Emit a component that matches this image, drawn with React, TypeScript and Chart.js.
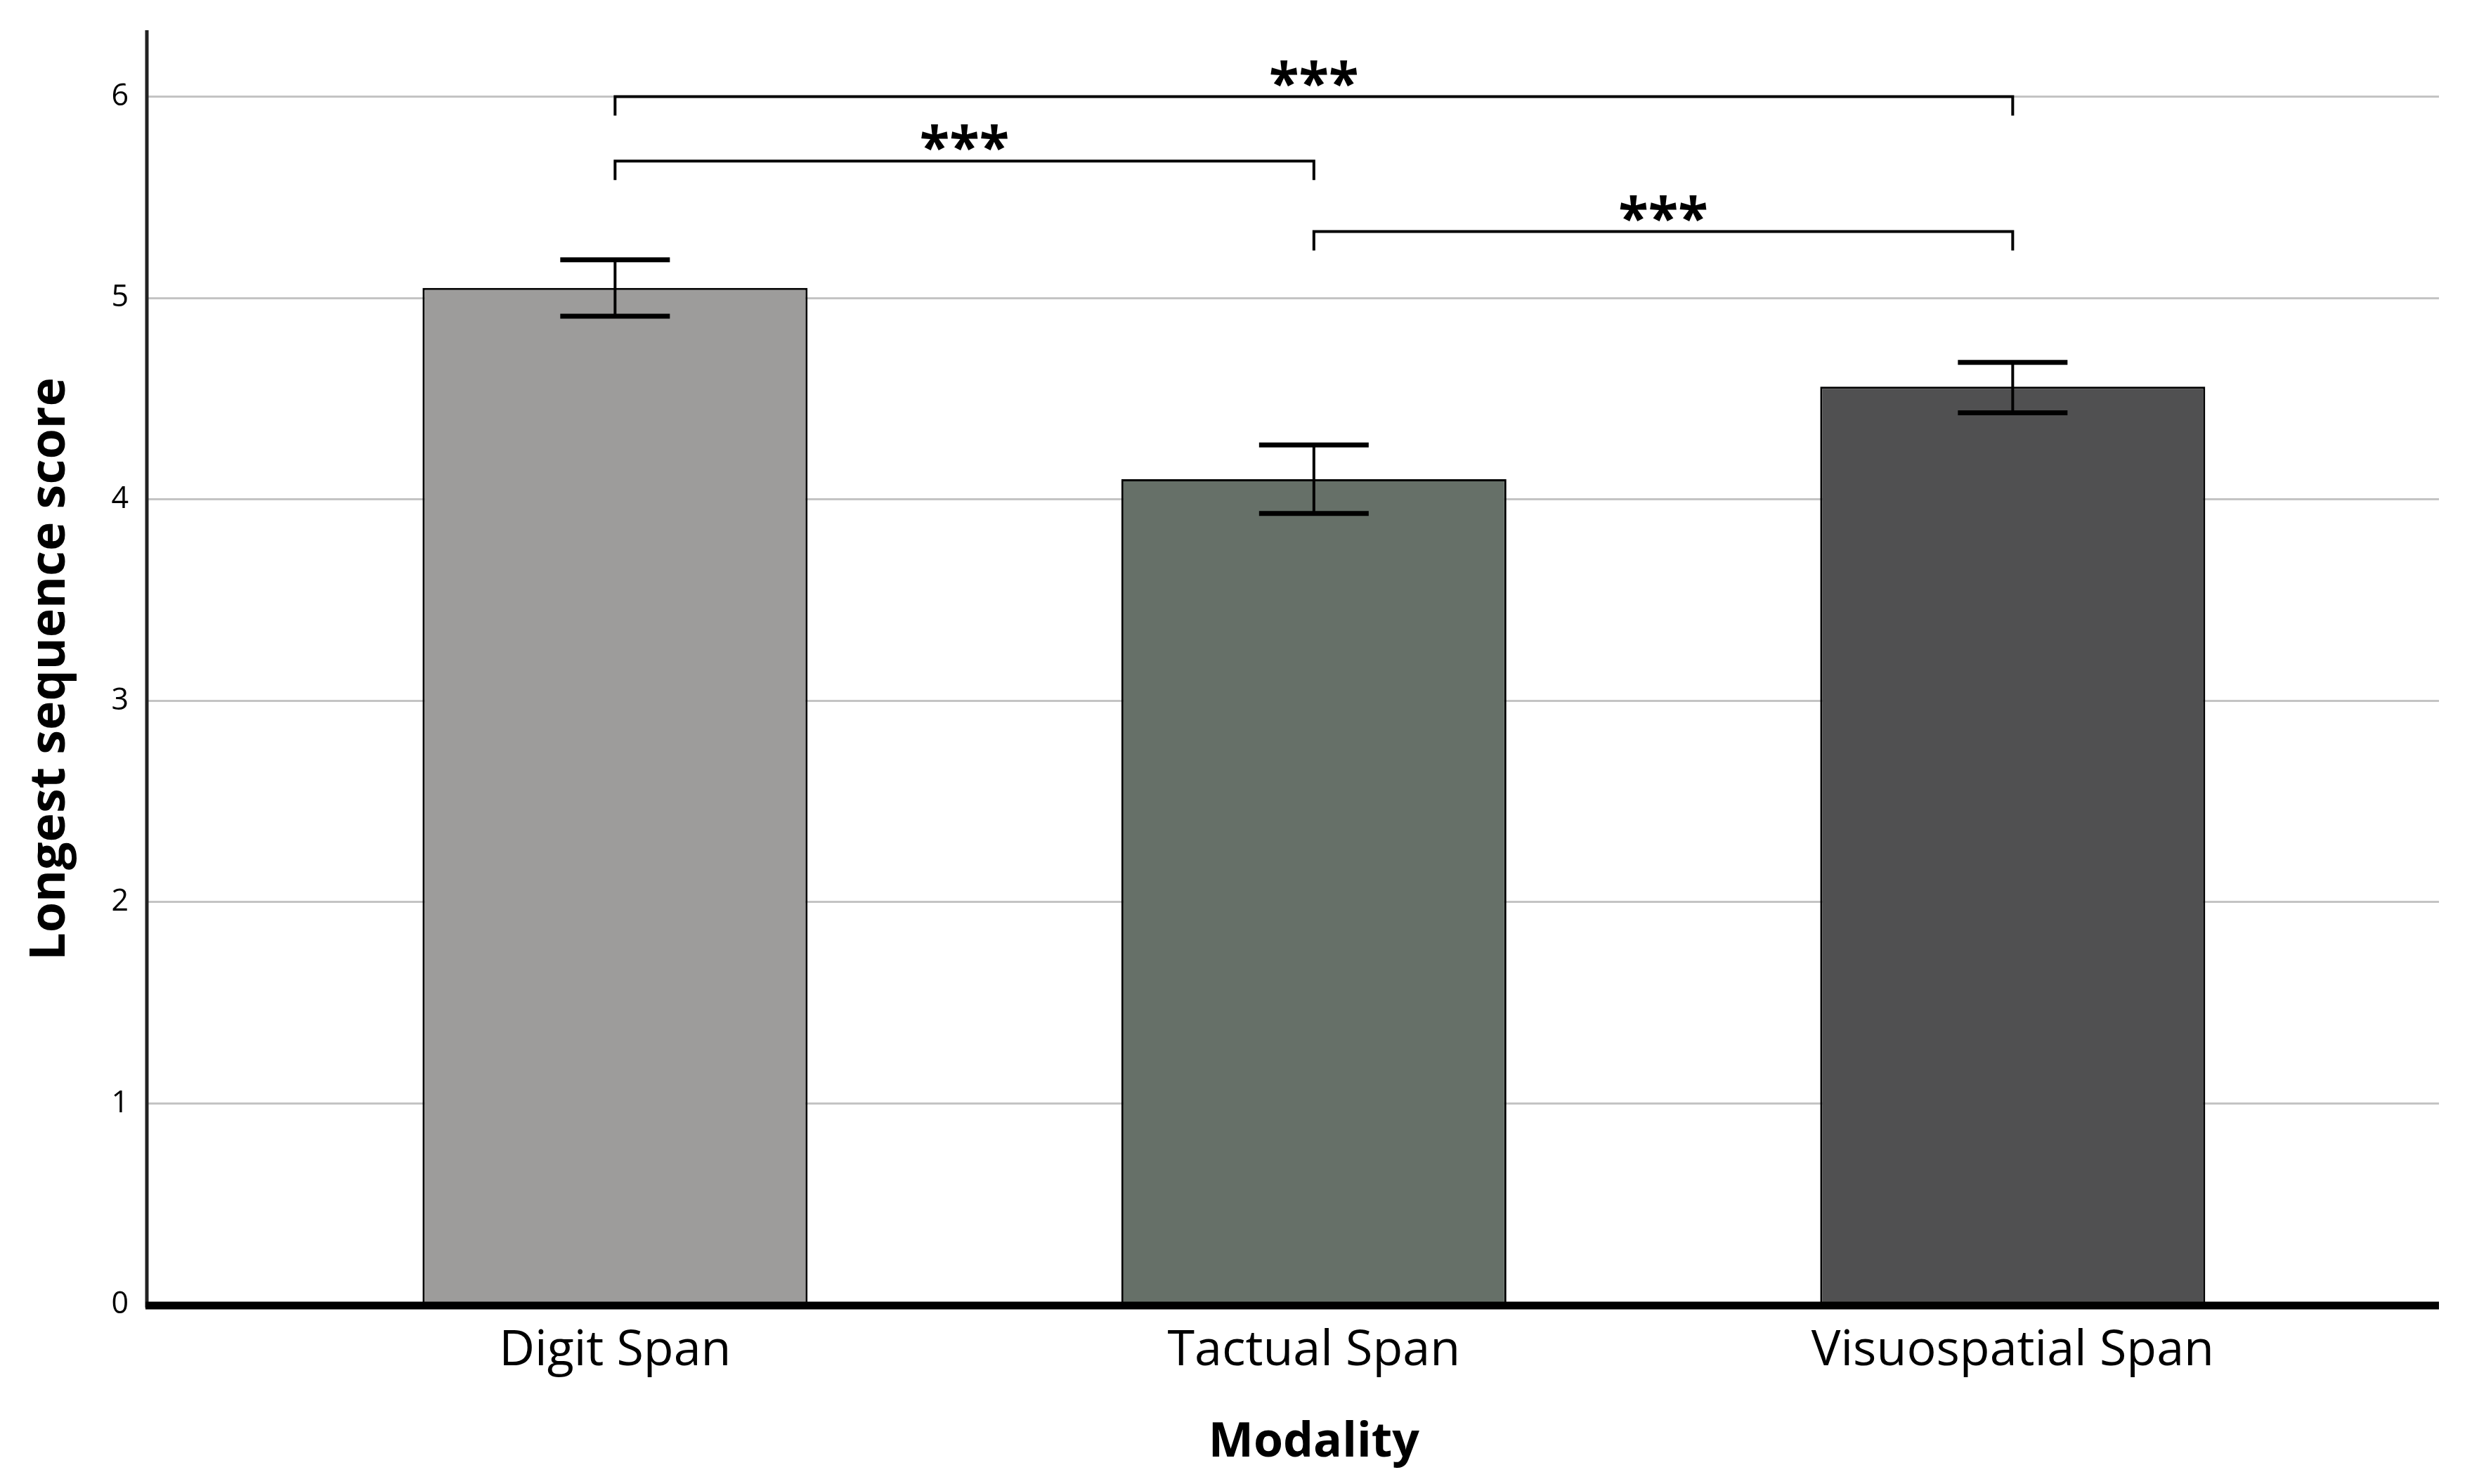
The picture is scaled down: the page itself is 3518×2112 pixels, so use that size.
import React, { useEffect, useRef } from 'react';
import { Chart, registerables } from 'chart.js';

Chart.register(...registerables);

// ---- Data ----
const categories = ['Digit Span', 'Tactual Span', 'Visuospatial Span'];
const means = [5.05, 4.10, 4.56];
const ciLow = [4.91, 3.93, 4.43];
const ciHigh = [5.19, 4.27, 4.68];
const barColors = ['#9d9c9b', '#667068', '#505051'];
const yTickValues = [0, 1, 2, 3, 4, 5, 6];
const bracketFrom = [0, 0, 1];
const bracketTo = [2, 1, 2];
const bracketLevel = [6.0, 5.68, 5.33];
const bracketLabels = ['***', '***', '***'];
const xTitle = 'Modality';
const yTitle = 'Longest sequence score';

const FONT = '"Open Sans", "Noto Sans", sans-serif';

const overlayPlugin = {
  id: 'overlay',
  afterDatasetsDraw(chart: any) {
    const { ctx, chartArea, scales } = chart;
    const x = scales.x;
    const y = scales.y;
    ctx.save();
    ctx.strokeStyle = '#000';
    ctx.fillStyle = '#000';
    ctx.lineCap = 'butt';

    // error bars
    means.forEach((_, i) => {
      const px = x.getPixelForValue(i);
      const yl = y.getPixelForValue(ciLow[i]);
      const yh = y.getPixelForValue(ciHigh[i]);
      ctx.lineWidth = 4;
      ctx.beginPath();
      ctx.moveTo(px, yl);
      ctx.lineTo(px, yh);
      ctx.stroke();
      ctx.lineWidth = 7;
      [yl, yh].forEach((yy) => {
        ctx.beginPath();
        ctx.moveTo(px - 78, yy);
        ctx.lineTo(px + 78, yy);
        ctx.stroke();
      });
    });

    // significance brackets
    bracketFrom.forEach((f, k) => {
      const x1 = x.getPixelForValue(f);
      const x2 = x.getPixelForValue(bracketTo[k]);
      const yy = y.getPixelForValue(bracketLevel[k]);
      ctx.lineWidth = 4;
      ctx.beginPath();
      ctx.moveTo(x1, yy + 27);
      ctx.lineTo(x1, yy);
      ctx.lineTo(x2, yy);
      ctx.lineTo(x2, yy + 27);
      ctx.stroke();
      ctx.font = `bold 78px ${FONT}`;
      ctx.textAlign = 'center';
      ctx.textBaseline = 'alphabetic';
      ctx.fillText(bracketLabels[k], (x1 + x2) / 2, yy + 8);
    });

    // axis lines
    ctx.strokeStyle = '#222';
    ctx.lineWidth = 5;
    ctx.beginPath();
    ctx.moveTo(chartArea.left, chartArea.top);
    ctx.lineTo(chartArea.left, chartArea.bottom + 4);
    ctx.stroke();
    ctx.strokeStyle = '#000';
    ctx.lineWidth = 11;
    ctx.beginPath();
    ctx.moveTo(chartArea.left - 2, chartArea.bottom + 1);
    ctx.lineTo(chartArea.right, chartArea.bottom + 1);
    ctx.stroke();

    // axis titles
    ctx.fillStyle = '#000';
    ctx.font = `bold 68px ${FONT}`;
    ctx.textAlign = 'center';
    ctx.textBaseline = 'alphabetic';
    ctx.fillText(xTitle, x.getPixelForValue(1), chartArea.bottom + 216);
    ctx.save();
    ctx.font = `bold 70px ${FONT}`;
    ctx.translate(chartArea.left - 117, (chartArea.top + chartArea.bottom) / 2 + 2);
    ctx.rotate(-Math.PI / 2);
    ctx.fillText(yTitle, 0, 0);
    ctx.restore();

    ctx.restore();
  },
};

export default function App() {
  const canvasRef = useRef<HTMLCanvasElement | null>(null);

  useEffect(() => {
    if (!canvasRef.current) return;
    const chart = new Chart(canvasRef.current, {
      type: 'bar',
      data: {
        datasets: [
          {
            data: means.map((m, i) => ({ x: i, y: m })),
            backgroundColor: barColors,
            borderColor: '#000',
            borderWidth: 3,
            barPercentage: 0.551,
            categoryPercentage: 1,
          },
        ],
      },
      options: {
        responsive: false,
        animation: false,
        devicePixelRatio: 1,
        layout: { padding: { left: 0, right: 47, top: 43, bottom: 0 } },
        plugins: {
          legend: { display: false },
          tooltip: { enabled: false },
        },
        scales: {
          x: {
            type: 'linear',
            min: -0.67,
            max: 2.61,
            offset: false,
            afterBuildTicks: (s: any) => {
              s.ticks = categories.map((_, i) => ({ value: i }));
            },
            afterFit: (s: any) => {
              s.height = 2112 - 1857;
              s.paddingLeft = 0;
              s.paddingRight = 0;
            },
            ticks: {
              autoSkip: false,
              maxRotation: 0,
              minRotation: 0,
              padding: 24,
              color: '#000',
              font: { family: FONT, size: 70 },
              callback: (v: any) => categories[v as number] ?? '',
            },
            grid: { display: false, drawTicks: false },
            border: { display: false },
          },
          y: {
            type: 'linear',
            min: 0,
            max: 6.33,
            afterBuildTicks: (s: any) => {
              s.ticks = yTickValues.map((v) => ({ value: v }));
            },
            afterFit: (s: any) => {
              s.width = 209;
              s.paddingTop = 0;
              s.paddingBottom = 0;
            },
            ticks: {
              padding: 26,
              color: '#000',
              font: { family: FONT, size: 43 },
            },
            grid: { color: '#c4c4c4', lineWidth: 3, drawTicks: false },
            border: { display: false },
          },
        },
      },
      plugins: [overlayPlugin],
    });
    return () => chart.destroy();
  }, []);

  return (
    <div style={{ position: 'fixed', left: 0, top: 0, width: 3518, height: 2112, background: '#fff' }}>
      <canvas ref={canvasRef} width={3518} height={2112} style={{ display: 'block', width: 3518, height: 2112 }} />
    </div>
  );
}
